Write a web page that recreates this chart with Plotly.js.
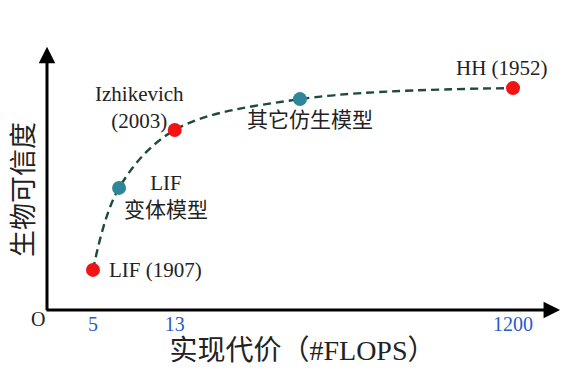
<!DOCTYPE html>
<html>
<head>
<meta charset="utf-8">
<script src="https://cdn.plot.ly/plotly-3.0.1.min.js"></script>
<style>html,body{margin:0;padding:0;background:#fff;}#chart{width:576px;height:379px;}</style>
</head>
<body>
<div id="chart"></div>
<script>
// Conceptual positions (arbitrary units along the cost axis, 0-10) and fidelity (0-10)
const modelNames = ['LIF (1907)', 'LIF<br>变体模型', 'Izhikevich<br>(2003)', '其它仿生模型', 'HH (1952)'];
const costPos = [0.90, 1.41, 2.50, 4.95, 9.12];
const fidelity = [1.53, 4.66, 6.87, 8.05, 8.47];
const markerColors = ['#f21414', '#2f8699', '#f21414', '#2f8699', '#f21414'];
const tickPos = [0.90, 2.50, 9.12];
const tickLabels = ['5', '13', '1200'];
const xTitle = '实现代价（#FLOPS）';
const yTitle = '生物可信度';

// label placement (pixel offsets from each point)
const labelShiftX = [14, 47, -35, 10, -11];
const labelShiftY = [0, -9, 23, -21, 20];
const labelAnchor = ['left', 'center', 'center', 'center', 'center'];

const serif = 'Liberation Serif, Noto Sans CJK SC, serif';

const curve = {
  x: costPos, y: fidelity, mode: 'lines', type: 'scatter',
  line: {shape: 'spline', smoothing: 1.0, color: '#1d4a3c', width: 2.4, dash: '8px,5px'},
  hoverinfo: 'skip', showlegend: false
};
const pts = {
  x: costPos, y: fidelity, mode: 'markers', type: 'scatter',
  marker: {size: 14, color: markerColors, line: {width: 0}},
  showlegend: false
};

const annotations = modelNames.map((n, i) => ({
  x: costPos[i], y: fidelity[i], xref: 'x', yref: 'y',
  text: n, showarrow: false,
  xanchor: labelAnchor[i], yanchor: 'middle', align: 'center',
  xshift: labelShiftX[i], yshift: labelShiftY[i],
  font: {family: serif, size: 21, color: '#222'}
}));
// axis arrows
annotations.push({
  x: 0, y: 1.005, xref: 'paper', yref: 'paper', showarrow: true,
  ax: 0, ay: 265, axref: 'pixel', ayref: 'pixel', text: '',
  arrowhead: 2, arrowsize: 1.1, arrowwidth: 3, arrowcolor: '#000'
});
annotations.push({
  x: 1.004, y: 0, xref: 'paper', yref: 'paper', showarrow: true,
  ax: -515, ay: 0, axref: 'pixel', ayref: 'pixel', text: '',
  arrowhead: 2, arrowsize: 1.1, arrowwidth: 3, arrowcolor: '#000'
});
annotations.push({
  x: 0, y: 0, xref: 'paper', yref: 'paper', text: 'O', showarrow: false,
  xanchor: 'center', yanchor: 'middle', xshift: -9, yshift: -9,
  font: {family: serif, size: 20, color: '#222'}
});
// y-axis title (placed as rotated annotation for exact position)
annotations.push({
  x: 0, y: 0.5, xref: 'paper', yref: 'paper', text: yTitle, showarrow: false,
  textangle: -90, xanchor: 'center', yanchor: 'middle', xshift: -23, yshift: -11,
  font: {family: serif, size: 27, color: '#222'}
});

const layout = {
  width: 576, height: 379,
  margin: {l: 47, r: 18, t: 48, b: 69},
  paper_bgcolor: '#fff', plot_bgcolor: '#fff',
  font: {family: serif},
  xaxis: {
    range: [0, 10], showgrid: false, zeroline: false, showline: false,
    tickmode: 'array', tickvals: tickPos, ticktext: tickLabels,
    ticks: '', ticklen: 0,
    tickfont: {family: serif, size: 20, color: '#2a5bc8'},
    title: {text: xTitle, font: {family: serif, size: 28, color: '#222'}, standoff: 5},
    fixedrange: true
  },
  yaxis: {
    range: [0, 10], showgrid: false, zeroline: false, showline: false,
    showticklabels: false, ticks: '',
    fixedrange: true
  },
  annotations: annotations
};

Plotly.newPlot('chart', [curve, pts], layout, {displayModeBar: false, staticPlot: true});
</script>
</body>
</html>
